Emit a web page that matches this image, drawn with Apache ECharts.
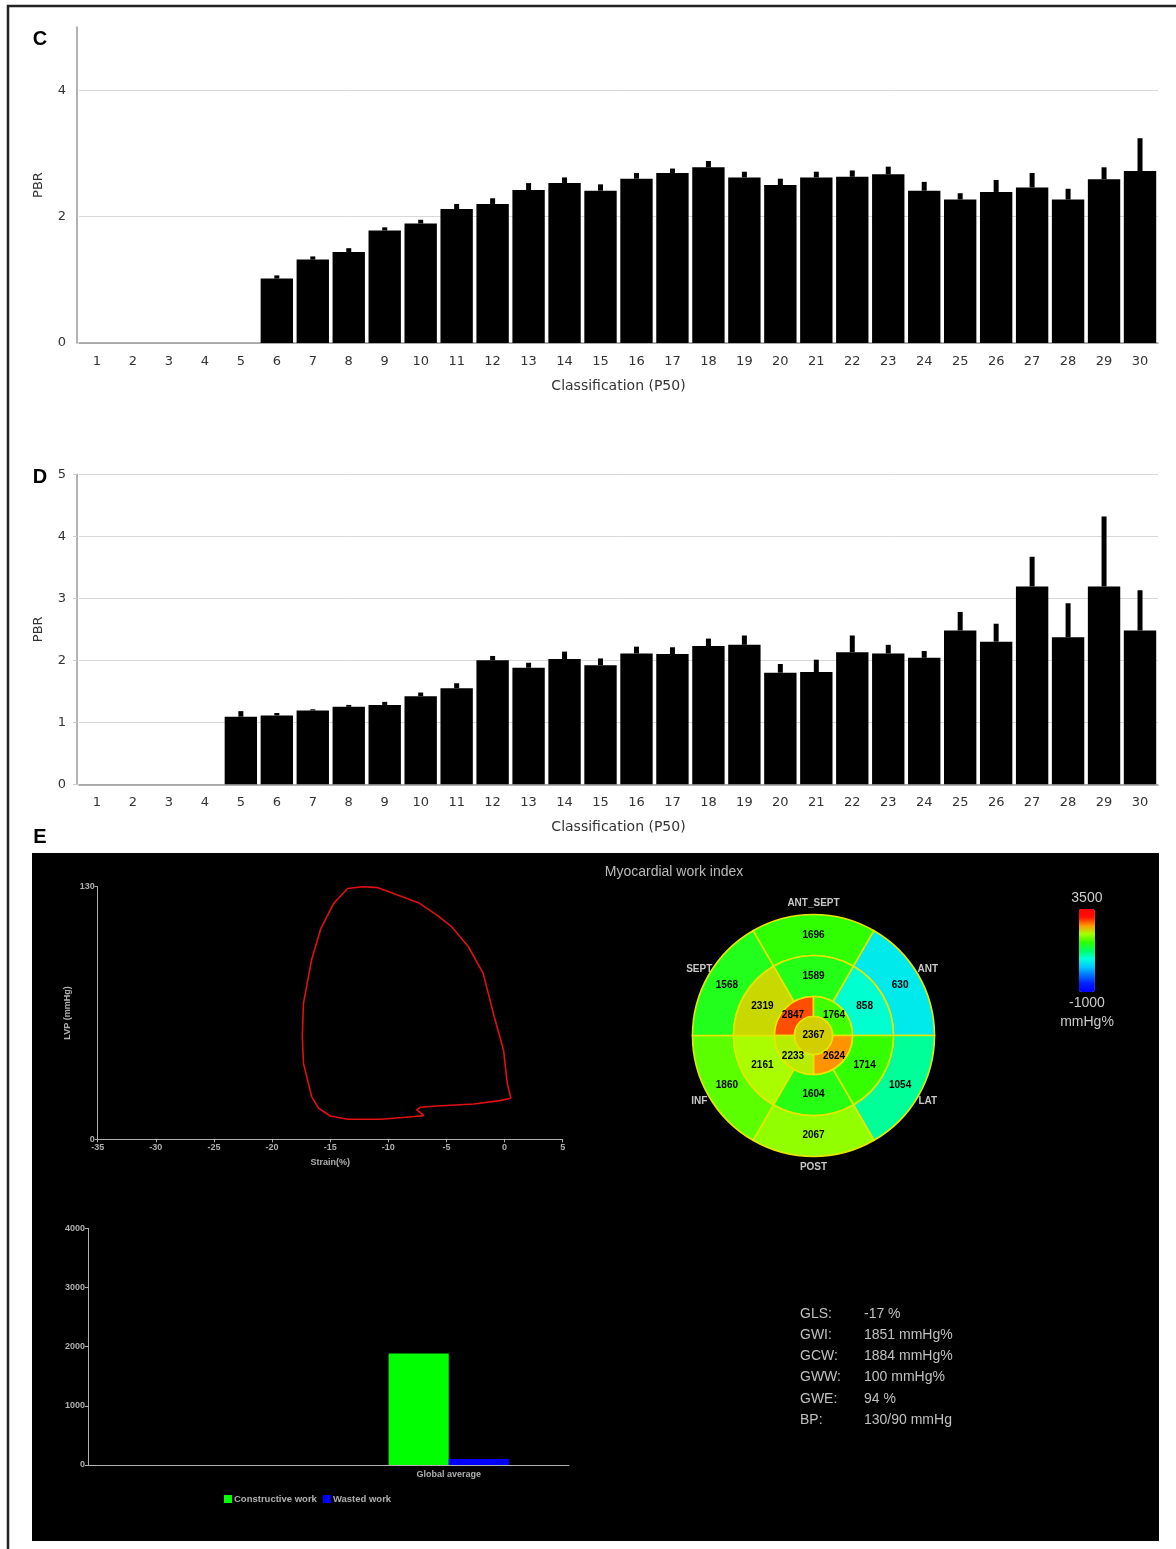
<!DOCTYPE html>
<html><head><meta charset="utf-8">
<script src="https://cdn.jsdelivr.net/npm/echarts@6/dist/echarts.min.js"></script>
<style>html,body{margin:0;padding:0;background:#fff}#c{width:1176px;height:1549px}</style>
</head><body><div id="c"></div>
<script>
// ---------- DATA ----------
const categories = ['1','2','3','4','5','6','7','8','9','10','11','12','13','14','15','16','17','18','19','20','21','22','23','24','25','26','27','28','29','30'];
// Panel C (PBR mean and upper error value)
const pbrC      = [0,0,0,0,0,1.02,1.32,1.44,1.78,1.89,2.12,2.20,2.42,2.53,2.41,2.60,2.69,2.78,2.62,2.50,2.62,2.63,2.67,2.41,2.27,2.39,2.46,2.27,2.59,2.72];
const pbrCUpper = [null,null,null,null,null,1.07,1.37,1.50,1.83,1.95,2.20,2.29,2.53,2.62,2.51,2.69,2.76,2.88,2.71,2.60,2.71,2.73,2.79,2.55,2.37,2.58,2.69,2.44,2.78,3.24];
// Panel D
const pbrD      = [0,0,0,0,1.09,1.11,1.19,1.25,1.28,1.42,1.55,2.00,1.88,2.02,1.92,2.11,2.10,2.23,2.25,1.80,1.81,2.13,2.11,2.04,2.48,2.30,3.19,2.37,3.19,2.48];
const pbrDUpper = [null,null,null,null,1.18,1.15,1.21,1.28,1.33,1.48,1.63,2.07,1.96,2.14,2.03,2.22,2.21,2.35,2.40,1.94,2.01,2.40,2.25,2.15,2.78,2.59,3.67,2.92,4.32,3.13];
// Panel E: pressure-strain loop
const strainX = [0.55,0.23,-0.09,-0.89,-1.84,-3.11,-4.55,-5.82,-7.41,-9.96,-10.9,-12.2,-13.5,-14.7,-15.8,-16.6,-17.3,-17.4,-17.3,-16.6,-16.0,-15.0,-13.5,-10.6,-7.73,-6.94,-7.25,-7.57,-7.25,-5.82,-2.64,-0.41,0.55];
const lvpY    = [21.1,28.8,46.0,63.1,85.4,99.1,109.4,115.4,121.8,127.4,129.5,130.0,129.1,121.4,108.6,92.3,70.0,52.8,39.1,22.0,16.0,12.0,10.3,10.3,11.7,12.2,13.7,15.1,16.5,17.1,18.2,19.9,21.1];
// Panel E: work bar chart
const workCategories = ['', 'Global average'];
const constructiveWork = [null, 1884];
const wastedWork = [null, 100];
// Panel E: bullseye (segments ordered ANT_SEPT, ANT, LAT, POST, INF, SEPT)
const segNames = ['ANT_SEPT','ANT','LAT','POST','INF','SEPT'];
const bullBasal  = [1696, 630, 1054, 2067, 1860, 1568];
const bullMid    = [1589, 858, 1714, 1604, 2161, 2319];
const bullApical = [2847, 1764, 2624, 2233]; // top-left, top-right, bottom-right, bottom-left
const bullApex   = [2367];
const statNames  = ['GLS:','GWI:','GCW:','GWW:','GWE:','BP:'];
const statValues = ['-17 %','1851 mmHg%','1884 mmHg%','100 mmHg%','94 %','130/90 mmHg'];

// ---------- BUILD ----------
const errC = pbrCUpper.map((u,i)=> u==null?null:[i, pbrC[i], u]).filter(Boolean);
const errD = pbrDUpper.map((u,i)=> u==null?null:[i, pbrD[i], u]).filter(Boolean);
const loopData = strainX.map((x,i)=>[x, lvpY[i]]);
const bullData = [];
[bullBasal, bullMid, bullApical, bullApex].forEach((arr, ring)=>arr.forEach((v,i)=>bullData.push([ring,i,v])));

const FD = '"DejaVu Sans", Verdana, sans-serif';
const FE = '"Liberation Sans", Arial, sans-serif';
const BULL = {cx: 813.5, cy: 1035.5, radii: [[80,121],[39,80],[19,39],[0,19]], lab: [100,59,29,0]};

function errRender(params, api){
  const lo = api.coord([api.value(0), api.value(1)]);
  const hi = api.coord([api.value(0), api.value(2)]);
  return {type:'rect', shape:{x: lo[0]-2.5, y: hi[1], width: 5, height: lo[1]-hi[1]}, style:{fill:'#000'}};
}
function bullRender(params, api){
  const ring = api.value(0), idx = api.value(1), v = api.value(2);
  let c, h;
  if (ring < 2) { c = 90 - 60*idx; h = 30; }
  else if (ring === 2) { c = 135 - 90*idx; h = 45; }
  else { c = 90; h = 180; }
  const rad = d => d*Math.PI/180;
  const [r0, r] = BULL.radii[ring];
  const children = [{
    type:'sector',
    shape:{cx:BULL.cx, cy:BULL.cy, r0:r0, r:r, startAngle:-rad(c+h), endAngle:-rad(c-h), clockwise:true},
    style:{fill: api.visual('color'), stroke:'#e6e600', lineWidth:1.6}
  }];
  const rl = BULL.lab[ring];
  children.push({type:'text', z2: 20, style:{text: String(v), x: BULL.cx + rl*Math.cos(rad(c)), y: BULL.cy - rl*Math.sin(rad(c)),
    align:'center', verticalAlign:'middle', fill:'#000', font:'bold 10px ' + FE}});
  if (ring === 0) {
    children.push({type:'text', z2: 20, style:{text: segNames[idx], x: BULL.cx + 132*Math.cos(rad(c)), y: BULL.cy - 132*Math.sin(rad(c)),
      align:'center', verticalAlign:'middle', fill:'#c8c8c8', font:'bold 10px ' + FE}});
  }
  return {type:'group', children};
}

const axisGreyD = '#999';
const eAxis = {onZero:false, lineStyle:{color:'#b0b0b0', width:1}};
const eLabel = {color:'#b0b0b0', fontSize:9, fontWeight:'bold', fontFamily:FE, formatter: v => String(v)};

const option = {
  backgroundColor:'#fff',
  animation:false,
  graphic:[
    {type:'rect', z:-10, shape:{x:8, y:6, width:1200, height:1600}, style:{fill:'#fff', stroke:'#222', lineWidth:2.5}},
    {type:'rect', z:-9, shape:{x:32, y:853, width:1127, height:688}, style:{fill:'#000'}},
    {type:'text', style:{text:'C', x:40, y:39, align:'center', verticalAlign:'middle', font:'bold 20px ' + FE, fill:'#000'}},
    {type:'text', style:{text:'D', x:40, y:477, align:'center', verticalAlign:'middle', font:'bold 20px ' + FE, fill:'#000'}},
    {type:'text', style:{text:'E', x:40, y:837, align:'center', verticalAlign:'middle', font:'bold 20px ' + FE, fill:'#000'}},
    {type:'text', style:{text:'Myocardial work index', x:674, y:872, align:'center', verticalAlign:'middle', font:'14px ' + FE, fill:'#bbb'}},
    {type:'text', style:{text:'mmHg%', x:1087, y:1022, align:'center', verticalAlign:'middle', font:'14px ' + FE, fill:'#ccc'}},
    ...statNames.map((t,i)=>({type:'text', style:{text:t, x:800, y:1314 + i*21.2, align:'left', verticalAlign:'middle', font:'14px ' + FE, fill:'#c0c0c0'}})),
    ...statValues.map((t,i)=>({type:'text', style:{text:t, x:864, y:1314 + i*21.2, align:'left', verticalAlign:'middle', font:'14px ' + FE, fill:'#c0c0c0'}}))
  ],
  grid:[
    {left:79, top:27, width:1079, height:316},
    {left:79, top:474.3, width:1079, height:310},
    {left:97.7, top:886.7, width:465, height:252.6},
    {left:88, top:1228.3, width:481, height:236.7}
  ],
  xAxis:[
    {type:'category', gridIndex:0, data:categories, axisLine:{lineStyle:{color:axisGreyD, width:1.5}},
     axisTick:{alignWithLabel:true, length:5, lineStyle:{color:axisGreyD}},
     axisLabel:{color:'#333', fontSize:13, fontFamily:FD, margin:12},
     name:'Classification (P50)', nameLocation:'middle', nameGap:36, nameTextStyle:{color:'#333', fontSize:14, fontFamily:FD}},
    {type:'category', gridIndex:1, data:categories, axisLine:{lineStyle:{color:axisGreyD, width:1.5}},
     axisTick:{alignWithLabel:true, length:5, lineStyle:{color:axisGreyD}},
     axisLabel:{color:'#333', fontSize:13, fontFamily:FD, margin:12},
     name:'Classification (P50)', nameLocation:'middle', nameGap:36, nameTextStyle:{color:'#333', fontSize:14, fontFamily:FD}},
    {type:'value', gridIndex:2, min:-35, max:5, interval:5, axisLine:eAxis, axisTick:{length:3, lineStyle:{color:'#b0b0b0'}},
     splitLine:{show:false}, axisLabel:Object.assign({margin:4}, eLabel),
     name:'Strain(%)', nameLocation:'middle', nameGap:19, nameTextStyle:{color:'#b0b0b0', fontSize:9, fontWeight:'bold', fontFamily:FE}},
    {type:'category', gridIndex:3, data:workCategories, axisLine:eAxis, axisTick:{length:4, lineStyle:{color:'#b0b0b0'}},
     axisLabel:Object.assign({}, eLabel, {margin:5, formatter: null})}
  ],
  yAxis:[
    {type:'value', gridIndex:0, min:0, max:5, interval:2, offset:2,
     axisLine:{show:true, lineStyle:{color:axisGreyD, width:1.5}}, axisTick:{show:false},
     splitLine:{show:true, showMaxLine:false, lineStyle:{color:'#d8d8d8'}},
     axisLabel:{color:'#333', fontSize:13, fontFamily:FD, margin:11, showMaxLabel:false},
     name:'PBR', nameLocation:'middle', nameGap:32, nameTextStyle:{color:'#333', fontSize:13, fontFamily:FD}},
    {type:'value', gridIndex:1, min:0, max:5, interval:1, offset:2,
     axisLine:{show:true, lineStyle:{color:axisGreyD, width:1.5}}, axisTick:{show:true, length:4, lineStyle:{color:'#ccc'}},
     splitLine:{show:true, lineStyle:{color:'#d8d8d8'}},
     axisLabel:{color:'#333', fontSize:13, fontFamily:FD, margin:11},
     name:'PBR', nameLocation:'middle', nameGap:32, nameTextStyle:{color:'#333', fontSize:13, fontFamily:FD}},
    {type:'value', gridIndex:2, min:0, max:130, interval:130, axisLine:Object.assign({show:true}, eAxis),
     axisTick:{show:true, length:3, lineStyle:{color:'#b0b0b0'}}, splitLine:{show:false},
     axisLabel:Object.assign({margin:3}, eLabel),
     name:'LVP (mmHg)', nameLocation:'middle', nameGap:26, nameTextStyle:{color:'#b0b0b0', fontSize:9, fontWeight:'bold', fontFamily:FE}},
    {type:'value', gridIndex:3, min:0, max:4000, interval:1000, axisLine:Object.assign({show:true}, eAxis),
     axisTick:{show:true, length:3, lineStyle:{color:'#b0b0b0'}}, splitLine:{show:false},
     axisLabel:Object.assign({margin:3}, eLabel)}
  ],
  legend:{data:['Constructive work','Wasted work'], left:219, top:1489, itemWidth:8, itemHeight:8, itemGap:6, icon:'rect',
    textStyle:{color:'#b0b0b0', fontSize:9.5, fontWeight:'bold', fontFamily:FE, padding:[0,0,0,-3]}},
  visualMap:{type:'continuous', seriesIndex:7, dimension:2, min:-1000, max:3500, calculable:false,
    left:1054, top:876, itemWidth:16, itemHeight:83, text:['3500','-1000'], textGap:4,
    textStyle:{color:'#ccc', fontSize:14, fontFamily:FE},
    inRange:{color:['#0000ff','#0020ff','#0070ff','#00c8ff','#00ffe0','#00ff60','#30ff00','#a8ff00','#ff9a00','#ff1000','#ff0000']}},
  series:[
    {type:'bar', xAxisIndex:0, yAxisIndex:0, data:pbrC, barCategoryGap:'10%', itemStyle:{color:'#000'}, z:2},
    {type:'custom', xAxisIndex:0, yAxisIndex:0, data:errC, renderItem:errRender, z:3},
    {type:'bar', xAxisIndex:1, yAxisIndex:1, data:pbrD, barCategoryGap:'10%', itemStyle:{color:'#000'}, z:2},
    {type:'custom', xAxisIndex:1, yAxisIndex:1, data:errD, renderItem:errRender, z:3},
    {type:'line', xAxisIndex:2, yAxisIndex:2, data:loopData, showSymbol:false, lineStyle:{color:'#e01010', width:1.6}, itemStyle:{color:'#e01010'}},
    {type:'bar', name:'Constructive work', xAxisIndex:3, yAxisIndex:3, data:constructiveWork, barGap:'0%', barCategoryGap:'50%', itemStyle:{color:'#00ff00'}},
    {type:'bar', name:'Wasted work', xAxisIndex:3, yAxisIndex:3, data:wastedWork, barGap:'0%', barCategoryGap:'50%', itemStyle:{color:'#0000ff'}},
    {type:'custom', coordinateSystem:'none', data:bullData, renderItem:bullRender, z:5}
  ]
};
const chart = echarts.init(document.getElementById('c'), null, {renderer:'canvas'});
chart.setOption(option);
</script></body></html>
